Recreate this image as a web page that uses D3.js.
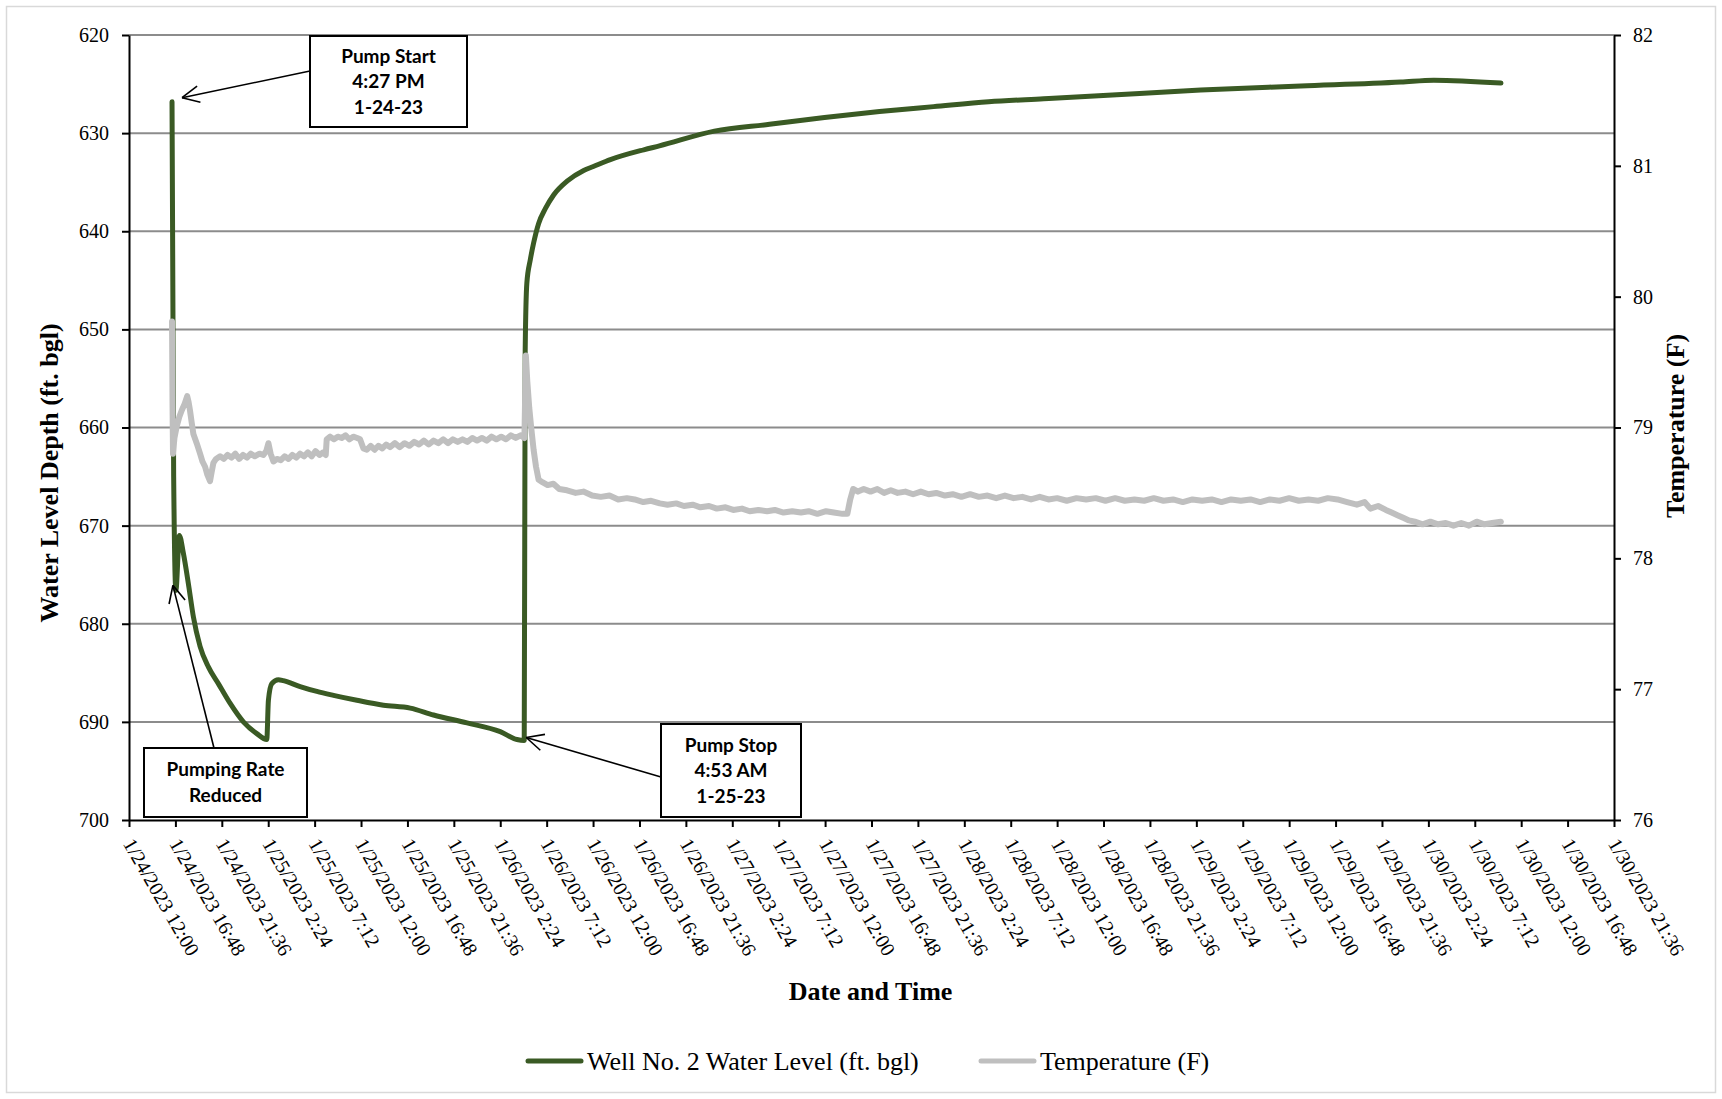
<!DOCTYPE html>
<html>
<head>
<meta charset="utf-8">
<script src="https://cdn.jsdelivr.net/npm/d3@7"></script>
<style>
  html, body { margin: 0; padding: 0; background: #fff; }
  svg { display: block; }
</style>
</head>
<body>
<svg id="chart" width="1722" height="1099"></svg>
<script>
// ---------------- DATA ----------------
// elapsed hours since 1/24/2023 12:00, water level depth (ft. bgl)
const waterLevel = [
  [4.45, 626.8], [4.62, 665.0], [4.85, 676.6], [5.21, 671.0], [5.62, 672.8],
  [6.14, 675.9], [6.66, 679.3], [7.35, 682.3], [8.21, 684.4], [9.24, 686.1],
  [10.45, 688.1], [11.83, 690.0], [13.22, 691.2], [14.25, 691.8], [14.42, 687.8],
  [14.77, 686.1], [15.45, 685.7], [15.97, 685.8], [17.70, 686.4], [19.43, 686.9],
  [21.15, 687.3], [23.57, 687.8], [26.32, 688.3], [29.09, 688.6], [31.50, 689.3],
  [34.96, 690.1], [38.40, 691.0], [40.13, 691.8], [40.88, 691.9], [40.98, 652.1],
  [41.15, 645.3], [41.51, 642.9], [41.85, 641.2], [42.37, 639.2], [43.06, 637.7],
  [43.92, 636.3], [45.31, 634.9], [47.03, 633.8], [48.03, 633.4], [49.79, 632.7],
  [53.24, 631.7], [54.86, 631.3], [60.55, 629.8], [66.25, 629.1], [71.94, 628.4],
  [77.63, 627.8], [83.22, 627.3], [88.92, 626.8], [94.61, 626.5], [100.30, 626.2],
  [110.86, 625.6], [121.21, 625.2], [131.56, 624.8], [134.97, 624.6], [141.91, 624.9]
];

// elapsed hours since 1/24/2023 12:00, temperature (F)
const temperature = [
  [4.45, 79.81], [4.50, 79.20], [4.55, 78.80], [4.70, 78.92], [4.94, 79.01],
  [5.20, 79.08], [5.45, 79.13], [5.75, 79.18], [6.02, 79.24], [6.15, 79.20],
  [6.31, 79.13], [6.50, 79.03], [6.66, 78.95], [7.00, 78.88], [7.35, 78.80],
  [7.60, 78.74], [7.87, 78.70], [8.10, 78.64], [8.38, 78.59], [8.55, 78.66],
  [8.73, 78.73], [9.00, 78.76], [9.42, 78.78], [9.80, 78.76], [10.2, 78.79],
  [10.6, 78.77], [11.0, 78.80], [11.4, 78.76], [11.8, 78.79], [12.2, 78.77],
  [12.6, 78.80], [13.0, 78.78], [13.5, 78.80], [13.9, 78.79], [14.2, 78.82],
  [14.42, 78.88], [14.65, 78.80], [14.94, 78.74], [15.3, 78.76], [15.7, 78.75],
  [16.1, 78.78], [16.5, 78.76], [16.9, 78.79], [17.3, 78.77], [17.7, 78.80],
  [18.1, 78.78], [18.5, 78.81], [18.9, 78.78], [19.3, 78.82], [19.7, 78.79],
  [20.1, 78.81], [20.35, 78.79], [20.45, 78.91], [20.8, 78.93], [21.2, 78.91],
  [21.6, 78.93], [22.0, 78.92], [22.4, 78.94], [22.8, 78.91], [23.2, 78.93],
  [23.6, 78.92], [23.9, 78.91], [24.25, 78.84], [24.6, 78.83], [25.0, 78.86],
  [25.4, 78.83], [25.8, 78.86], [26.2, 78.84], [26.6, 78.87], [27.0, 78.85],
  [27.5, 78.88], [28.0, 78.85], [28.5, 78.88], [29.0, 78.86], [29.5, 78.89],
  [30.0, 78.87], [30.5, 78.90], [31.0, 78.87], [31.5, 78.90], [32.0, 78.88],
  [32.5, 78.91], [33.0, 78.88], [33.5, 78.91], [34.0, 78.89], [34.5, 78.91],
  [35.0, 78.89], [35.5, 78.92], [36.0, 78.90], [36.5, 78.92], [37.0, 78.90],
  [37.5, 78.93], [38.0, 78.91], [38.5, 78.93], [39.0, 78.91], [39.5, 78.94],
  [40.0, 78.92], [40.5, 78.94], [40.9, 78.92], [41.05, 79.55], [41.2, 79.35],
  [41.4, 79.15], [41.6, 79.00], [41.85, 78.83], [42.1, 78.70], [42.37, 78.60],
  [42.8, 78.58], [43.3, 78.56], [43.9, 78.57], [44.5, 78.53], [45.3, 78.52],
  [46.2, 78.50], [47.0, 78.51], [47.9, 78.48], [48.8, 78.47], [49.7, 78.48],
  [50.6, 78.45], [51.5, 78.46], [52.3, 78.45], [53.2, 78.43], [54.0, 78.44],
  [54.9, 78.42], [55.7, 78.41], [56.6, 78.42], [57.4, 78.40], [58.3, 78.41],
  [59.1, 78.39], [60.0, 78.40], [60.8, 78.38], [61.7, 78.39], [62.5, 78.37],
  [63.4, 78.38], [64.2, 78.36], [65.1, 78.37], [66.0, 78.36], [66.8, 78.37],
  [67.7, 78.35], [68.6, 78.36], [69.5, 78.35], [70.3, 78.36], [71.2, 78.34],
  [72.1, 78.36], [72.9, 78.35], [73.8, 78.34], [74.3, 78.34], [74.6, 78.45],
  [74.9, 78.53], [75.4, 78.51], [76.0, 78.53], [76.7, 78.51], [77.4, 78.53],
  [78.1, 78.50], [78.8, 78.52], [79.5, 78.50], [80.3, 78.51], [81.1, 78.49],
  [81.9, 78.51], [82.7, 78.49], [83.5, 78.50], [84.4, 78.48], [85.2, 78.49],
  [86.1, 78.47], [87.0, 78.49], [87.9, 78.47], [88.8, 78.48], [89.7, 78.46],
  [90.6, 78.48], [91.5, 78.46], [92.4, 78.47], [93.3, 78.45], [94.2, 78.47],
  [95.1, 78.45], [96.0, 78.46], [97.0, 78.44], [98.0, 78.46], [99.0, 78.45],
  [100.0, 78.46], [101.0, 78.44], [102.0, 78.46], [103.0, 78.44], [104.0, 78.45],
  [105.0, 78.44], [106.0, 78.46], [107.0, 78.44], [108.0, 78.45], [109.0, 78.43],
  [110.0, 78.45], [111.0, 78.44], [112.0, 78.45], [113.0, 78.43], [114.0, 78.45],
  [115.0, 78.44], [116.0, 78.45], [117.0, 78.43], [118.0, 78.45], [119.0, 78.44],
  [120.0, 78.46], [121.0, 78.44], [122.0, 78.45], [123.0, 78.44], [124.0, 78.46],
  [125.0, 78.45], [126.0, 78.43], [127.0, 78.41], [127.8, 78.43], [128.4, 78.38],
  [129.2, 78.40], [130.0, 78.37], [130.6, 78.35], [131.2, 78.33], [131.8, 78.31],
  [132.4, 78.29], [133.0, 78.28], [133.8, 78.26], [134.6, 78.28], [135.4, 78.26],
  [136.2, 78.27], [137.0, 78.25], [137.8, 78.27], [138.6, 78.25], [139.4, 78.28],
  [140.2, 78.26], [141.0, 78.27], [141.9, 78.28]
];

const xTickLabels = [
  "1/24/2023 12:00", "1/24/2023 16:48", "1/24/2023 21:36",
  "1/25/2023 2:24", "1/25/2023 7:12", "1/25/2023 12:00", "1/25/2023 16:48", "1/25/2023 21:36",
  "1/26/2023 2:24", "1/26/2023 7:12", "1/26/2023 12:00", "1/26/2023 16:48", "1/26/2023 21:36",
  "1/27/2023 2:24", "1/27/2023 7:12", "1/27/2023 12:00", "1/27/2023 16:48", "1/27/2023 21:36",
  "1/28/2023 2:24", "1/28/2023 7:12", "1/28/2023 12:00", "1/28/2023 16:48", "1/28/2023 21:36",
  "1/29/2023 2:24", "1/29/2023 7:12", "1/29/2023 12:00", "1/29/2023 16:48", "1/29/2023 21:36",
  "1/30/2023 2:24", "1/30/2023 7:12", "1/30/2023 12:00", "1/30/2023 16:48", "1/30/2023 21:36"
];
const depthTicks = [620, 630, 640, 650, 660, 670, 680, 690, 700];
const tempTicks = [76, 77, 78, 79, 80, 81, 82];

const annotations = [
  { lines: ["Pump Start", "4:27 PM", "1-24-23"], hours: 4.45, value: 626.8 },
  { lines: ["Pumping Rate", "Reduced"], hours: 4.85, value: 676.6 },
  { lines: ["Pump Stop", "4:53 AM", "1-25-23"], hours: 40.88, value: 691.9 }
];

// ---------------- LAYOUT ----------------
const M = { left: 129, right: 1614, top: 35, bottom: 820 };
const serif = "'Liberation Serif', 'Times New Roman', serif";
const sans = "Lato, 'Open Sans', sans-serif";
const green = "#3a5a24";
const gray = "#bfbfbf";
const gridColor = "#8c8c8c";

const startTime = new Date(2023, 0, 24, 12, 0);
const endTime = new Date(2023, 0, 30, 21, 36);
const toDate = h => new Date(startTime.getTime() + h * 3600e3);

const x = d3.scaleTime().domain([startTime, endTime]).range([M.left, M.right]);
const yL = d3.scaleLinear().domain([620, 700]).range([M.top, M.bottom]);
const yR = d3.scaleLinear().domain([76, 82]).range([M.bottom, M.top]);

const svg = d3.select("#chart");

// chart area border
svg.append("rect").attr("x", 6.5).attr("y", 6.5).attr("width", 1709).attr("height", 1086)
  .attr("fill", "#fff").attr("stroke", "#d9d9d9").attr("stroke-width", 1.5);

// gridlines
svg.append("g").selectAll("line").data(depthTicks.slice(0, -1)).join("line")
  .attr("x1", M.left).attr("x2", M.right)
  .attr("y1", d => yL(d)).attr("y2", d => yL(d))
  .attr("stroke", gridColor).attr("stroke-width", 2);

function styleAxis(g) {
  g.attr("font-family", null);
  g.select(".domain").attr("stroke", "#000").attr("stroke-width", 2);
  g.selectAll(".tick line").attr("stroke", "#000").attr("stroke-width", 2);
  g.selectAll(".tick text")
    .style("font-family", serif).style("font-size", "20px").attr("fill", "#000");
}

// axes
const xTickValues = xTickLabels.map((_, i) => toDate(i * 4.8));
const xAxis = d3.axisBottom(x).tickValues(xTickValues)
  .tickFormat((d, i) => xTickLabels[i]).tickSize(7).tickSizeOuter(0);
const gx = svg.append("g").attr("transform", `translate(0,${M.bottom})`).call(xAxis);
styleAxis(gx);
gx.selectAll(".tick text")
  .attr("text-anchor", "start")
  .attr("y", 0).attr("dy", "0.35em")
  .attr("transform", "translate(-1,20) rotate(60)");

const gl = svg.append("g").attr("transform", `translate(${M.left},0)`)
  .call(d3.axisLeft(yL).tickValues(depthTicks).tickFormat(d3.format("d"))
    .tickSize(7).tickSizeOuter(0).tickPadding(13));
styleAxis(gl);

const gr = svg.append("g").attr("transform", `translate(${M.right},0)`)
  .call(d3.axisRight(yR).tickValues(tempTicks).tickFormat(d3.format("d"))
    .tickSize(7).tickSizeOuter(0).tickPadding(12));
styleAxis(gr);

// series
const lineL = d3.line().curve(d3.curveMonotoneX).x(d => x(toDate(d[0]))).y(d => yL(d[1]));
const lineR = d3.line().x(d => x(toDate(d[0]))).y(d => yR(d[1]));

svg.append("path").datum(waterLevel).attr("d", lineL)
  .attr("fill", "none").attr("stroke", green).attr("stroke-width", 5)
  .attr("stroke-linejoin", "round").attr("stroke-linecap", "round");
svg.append("path").datum(temperature).attr("d", lineR)
  .attr("fill", "none").attr("stroke", gray).attr("stroke-width", 6)
  .attr("stroke-linejoin", "round").attr("stroke-linecap", "round");

// axis titles
svg.append("text").attr("x", (M.left + M.right) / 2 - 1).attr("y", 1000)
  .attr("text-anchor", "middle").style("font-family", serif).attr("font-weight", "bold")
  .attr("font-size", 26).text("Date and Time");
svg.append("text").attr("transform", "translate(58,473) rotate(-90)")
  .attr("text-anchor", "middle").style("font-family", serif).attr("font-weight", "bold")
  .attr("font-size", 26).text("Water Level Depth (ft. bgl)");
svg.append("text").attr("transform", "translate(1684,426) rotate(-90)")
  .attr("text-anchor", "middle").style("font-family", serif).attr("font-weight", "bold")
  .attr("font-size", 26).text("Temperature (F)");

// annotations
const boxes = [
  { x0: 310, y0: 36, x1: 467, y1: 127, from: [310, 71], tipDx: 10, tipDy: -4 },
  { x0: 144, y0: 748, x1: 307, y1: 817, from: [214, 748], tipDx: -3, tipDy: -5 },
  { x0: 661, y0: 724, x1: 801, y1: 817, from: [661, 777], tipDx: 2, tipDy: -3 }
];
const ann = svg.append("g");
annotations.forEach((a, i) => {
  const b = boxes[i];
  const tx = x(toDate(a.hours)) + b.tipDx, ty = yL(a.value) + b.tipDy;
  const [fx, fy] = b.from;
  ann.append("line").attr("x1", fx).attr("y1", fy).attr("x2", tx).attr("y2", ty)
    .attr("stroke", "#000").attr("stroke-width", 1.6);
  const ang = Math.atan2(fy - ty, fx - tx);
  const L = 19, spread = 0.45;
  [ang - spread, ang + spread].forEach(t => {
    ann.append("line").attr("x1", tx).attr("y1", ty)
      .attr("x2", tx + L * Math.cos(t)).attr("y2", ty + L * Math.sin(t))
      .attr("stroke", "#000").attr("stroke-width", 1.6);
  });
  ann.append("rect").attr("x", b.x0).attr("y", b.y0)
    .attr("width", b.x1 - b.x0).attr("height", b.y1 - b.y0)
    .attr("fill", "#fff").attr("stroke", "#000").attr("stroke-width", 2);
  const cx = (b.x0 + b.x1) / 2, cy = (b.y0 + b.y1) / 2;
  const n = a.lines.length, lh = 25.5;
  a.lines.forEach((t, k) => {
    ann.append("text").attr("x", cx).attr("y", cy + (k - (n - 1) / 2) * lh)
      .attr("dy", "0.35em").attr("text-anchor", "middle")
      .style("font-family", sans).attr("font-weight", "bold").attr("font-size", 19)
      .attr("fill", "#000").text(t);
  });
});

// legend
const legendItems = [
  { label: "Well No. 2 Water Level (ft. bgl)", color: green, x: 528 },
  { label: "Temperature (F)", color: gray, x: 981 }
];
const lg = svg.append("g");
legendItems.forEach(it => {
  lg.append("line").attr("x1", it.x).attr("x2", it.x + 53).attr("y1", 1061).attr("y2", 1061)
    .attr("stroke", it.color).attr("stroke-width", 5).attr("stroke-linecap", "round");
  lg.append("text").attr("x", it.x + 59).attr("y", 1070)
    .style("font-family", serif).attr("font-size", 26).attr("fill", "#000").text(it.label);
});
</script>
</body>
</html>
